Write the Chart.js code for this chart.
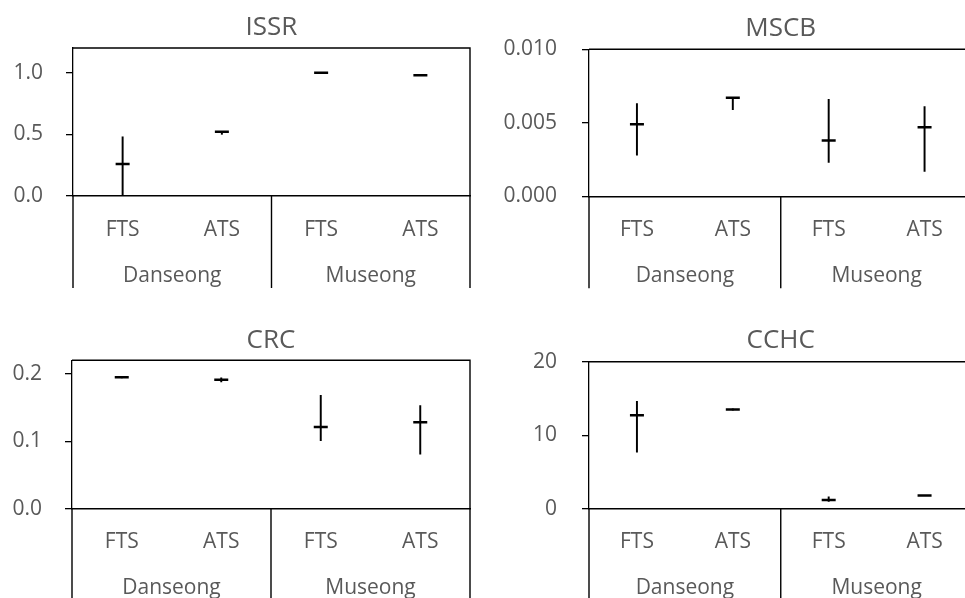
<!DOCTYPE html>
<html>
<head>
<meta charset="utf-8">
<script src="https://cdn.jsdelivr.net/npm/chart.js@4.4.0/dist/chart.umd.min.js"></script>
<style>
  html, body { margin: 0; background: #fff; overflow: hidden; }
  #page { position: relative; width: 965px; height: 598px; overflow: hidden; background: #fff; }
  canvas { position: absolute; }
</style>
</head>
<body>
<div id="page">
  <canvas id="issr" width="482" height="300" style="left:0;top:0"></canvas>
  <canvas id="mscb" width="500" height="300" style="left:482px;top:0"></canvas>
  <canvas id="crc" width="482" height="298" style="left:0;top:300px"></canvas>
  <canvas id="cchc" width="500" height="298" style="left:482px;top:300px"></canvas>
</div>
<script>
const categories = ['FTS', 'ATS', 'FTS', 'ATS'];
const groups = ['Danseong', 'Museong'];

// mean with min / max range per category
const issrMean = [0.26, 0.52, 1.0, 0.98];
const issrLow = [0.0, 0.50, 1.0, 0.98];
const issrHigh = [0.48, 0.52, 1.0, 0.98];
const issrTicks = [0, 0.5, 1.0];

const mscbMean = [0.0049, 0.0067, 0.0038, 0.0047];
const mscbLow = [0.0028, 0.0059, 0.0023, 0.0017];
const mscbHigh = [0.0063, 0.0067, 0.0066, 0.0061];
const mscbTicks = [0, 0.005, 0.010];

const crcMean = [0.195, 0.191, 0.121, 0.128];
const crcLow = [0.194, 0.188, 0.101, 0.081];
const crcHigh = [0.196, 0.194, 0.168, 0.153];
const crcTicks = [0, 0.1, 0.2];

const cchcMean = [12.7, 13.5, 1.2, 1.8];
const cchcLow = [7.7, 13.4, 1.0, 1.8];
const cchcHigh = [14.6, 13.6, 1.6, 1.8];
const cchcTicks = [0, 10, 20];

const textColor = '#595959';
const family = "'Open Sans', sans-serif";

// box around the plot + separators under the category axis
const frame = {
  id: 'frame',
  afterDraw(chart) {
    const { ctx, chartArea: a, scales: { x, xg } } = chart;
    const mid = (x.getPixelForValue(1) + x.getPixelForValue(2)) / 2;
    ctx.save();
    ctx.strokeStyle = '#000';
    ctx.lineWidth = 1.4;
    ctx.beginPath();
    ctx.moveTo(a.left, a.top);
    ctx.lineTo(a.right, a.top);
    ctx.lineTo(a.right, a.bottom);
    [a.left, mid, a.right].forEach(px => {
      ctx.moveTo(px, a.bottom);
      ctx.lineTo(px, xg.bottom);
    });
    ctx.stroke();
    ctx.restore();
  }
};

function drawPanel(id, title, mean, low, high, ticks, decimals, maxY, box) {
  const ctx = document.getElementById(id).getContext('2d');
  new Chart(ctx, {
    type: 'bar',
    data: {
      labels: categories,
      datasets: [
        {
          type: 'line',
          data: mean,
          showLine: false,
          pointStyle: 'line',
          pointRadius: 7,
          pointHoverRadius: 7,
          pointBorderWidth: 2.5,
          pointBorderColor: '#000',
          borderColor: '#000',
          order: 0
        },
        {
          data: low.map((v, i) => [v, high[i]]),
          backgroundColor: '#000',
          barThickness: 1.3,
          order: 1
        }
      ]
    },
    options: {
      responsive: false,
      animation: false,
      layout: { padding: { top: 0, left: 0, right: box.padRight, bottom: box.padBottom } },
      plugins: {
        legend: { display: false },
        tooltip: { enabled: false },
        title: {
          display: true,
          text: title,
          fullSize: false,
          color: textColor,
          font: { family, size: 26, weight: 'normal' },
          padding: { top: box.titleTop, bottom: box.titleBottom }
        }
      },
      scales: {
        x: {
          axis: 'x',
          offset: true,
          weight: 0,
          afterFit: s => { s.height = 46; },
          grid: { display: false, drawTicks: false },
          border: { display: true, color: '#000', width: 1.5 },
          ticks: { color: textColor, font: { family, size: 21 }, padding: 21, maxRotation: 0, autoSkip: false }
        },
        xg: {
          type: 'category',
          axis: 'x',
          position: 'bottom',
          labels: groups,
          offset: true,
          weight: 1,
          afterFit: s => { s.height = box.groupHeight; },
          grid: { display: false, drawTicks: false },
          border: { display: false },
          ticks: { color: textColor, font: { family, size: 21 }, padding: 21, maxRotation: 0, autoSkip: false }
        },
        y: {
          min: 0,
          max: maxY,
          afterFit: s => { s.width = box.yWidth; },
          afterBuildTicks: s => { s.ticks = ticks.map(v => ({ value: v })); },
          grid: { drawOnChartArea: false, drawTicks: true, tickLength: 7, color: '#000', lineWidth: 1.3 },
          border: { display: true, color: '#000', width: 1.3 },
          ticks: { color: textColor, font: { family, size: 21 }, padding: box.tickPad, callback: v => v.toFixed(decimals) }
        }
      }
    },
    plugins: [frame]
  });
}

// right-hand panels run past the page edge, as in the reference
drawPanel('issr', 'ISSR', issrMean, issrLow, issrHigh, issrTicks, 1, 1.2,
  { yWidth: 73, padRight: 12, padBottom: 12, titleTop: 12.2, titleBottom: 4.6, groupHeight: 46, tickPad: 23 });
drawPanel('mscb', 'MSCB', mscbMean, mscbLow, mscbHigh, mscbTicks, 3, 0.010,
  { yWidth: 107, padRight: 6, padBottom: 11.7, titleTop: 12.6, titleBottom: 5.5, groupHeight: 46, tickPad: 25 });
drawPanel('crc', 'CRC', crcMean, crcLow, crcHigh, crcTicks, 1, 0.22,
  { yWidth: 72, padRight: 12, padBottom: 0, titleTop: 25.1, titleBottom: 4, groupHeight: 43.3, tickPad: 23 });
drawPanel('cchc', 'CCHC', cchcMean, cchcLow, cchcHigh, cchcTicks, 0, 20,
  { yWidth: 107, padRight: 3, padBottom: 0, titleTop: 25.1, titleBottom: 5.4, groupHeight: 43.3, tickPad: 25 });
</script>
</body>
</html>
